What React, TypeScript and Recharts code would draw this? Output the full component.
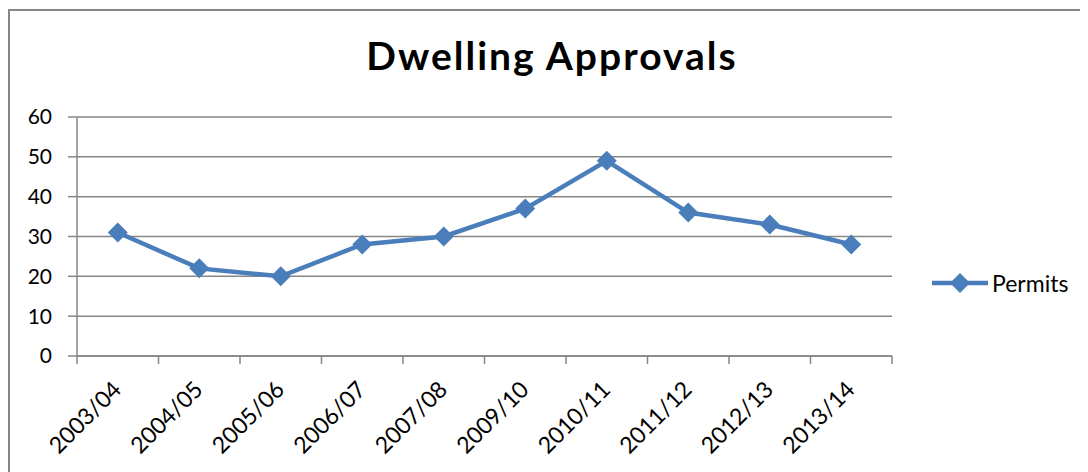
import { LineChart, Line, XAxis, YAxis, CartesianGrid } from 'recharts';

const years = ['2003/04', '2004/05', '2005/06', '2006/07', '2007/08', '2009/10', '2010/11', '2011/12', '2012/13', '2013/14'];
const permits = [31, 22, 20, 28, 30, 37, 49, 36, 33, 28];
const yTicks = [0, 10, 20, 30, 40, 50, 60];

const data = years.map((year, i) => ({ year, permits: permits[i] }));

const W = 1080;
const H = 463;
const M = { top: 108, right: 196, left: 0, bottom: 26 };
const Y_W = 69;
const X_H = H - M.bottom - 347;
const BAND = (W - Y_W - M.right) / years.length;
const BLUE = '#4A7EBB';
const GRID = '#868686';
const FONT = 'Lato, "Open Sans", sans-serif';

const Diamond = (props: any) => {
  const { cx, cy } = props;
  if (cx == null || cy == null) return null;
  const r = 10;
  return (
    <polygon
      key={`d-${cx}`}
      points={`${cx},${cy - r} ${cx + r},${cy} ${cx},${cy + r} ${cx - r},${cy}`}
      fill={BLUE}
    />
  );
};

const XTick = (props: any) => {
  const { x, y, payload, index } = props;
  const tx = x + 5;
  const ty = y + 35;
  return (
    <g>
      <line x1={x - BAND / 2} x2={x - BAND / 2} y1={y} y2={y + 8} stroke={GRID} strokeWidth={1.5} />
      {index === years.length - 1 && (
        <line x1={x + BAND / 2} x2={x + BAND / 2} y1={y} y2={y + 8} stroke={GRID} strokeWidth={1.5} />
      )}
      <text
        x={tx}
        y={ty}
        textAnchor="end"
        fontSize={23}
        fontFamily={FONT}
        fill="#000"
        transform={`rotate(-45, ${tx}, ${ty})`}
      >
        {payload.value}
      </text>
    </g>
  );
};

export default function App() {
  return (
    <div
      style={{
        position: 'relative',
        width: W,
        height: H,
        marginTop: 1,
        borderLeft: `2px solid ${GRID}`,
        borderTop: `2px solid ${GRID}`,
        boxSizing: 'border-box',
        background: '#fff',
      }}
    >
      <div
        style={{
          position: 'absolute',
          left: 0,
          width: 1084,
          top: 21,
          textAlign: 'center',
          fontFamily: FONT,
          fontWeight: 700,
          fontSize: 39,
          letterSpacing: 2,
          color: '#000',
        }}
      >
        Dwelling Approvals
      </div>
      <div style={{ position: 'absolute', left: -2, top: -2 }}>
        <LineChart width={W} height={H} data={data} margin={M}>
          <CartesianGrid vertical={false} stroke={GRID} strokeWidth={1.5} />
          <XAxis
            dataKey="year"
            height={X_H}
            interval={0}
            padding={{ left: BAND / 2, right: BAND / 2 }}
            tickLine={false}
            tickSize={0}
            tickMargin={0}
            axisLine={{ stroke: GRID, strokeWidth: 1.5 }}
            tick={<XTick />}
          />
          <YAxis
            width={Y_W}
            domain={[0, 60]}
            ticks={yTicks}
            interval={0}
            tickSize={9}
            tickMargin={16}
            tickLine={{ stroke: GRID, strokeWidth: 1.5 }}
            axisLine={{ stroke: GRID, strokeWidth: 1.5 }}
            tick={{ fontSize: 21, fontFamily: FONT, fill: '#000' }}
          />
          <Line
            type="linear"
            dataKey="permits"
            name="Permits"
            stroke={BLUE}
            strokeWidth={4.5}
            dot={<Diamond />}
            activeDot={false}
            isAnimationActive={false}
          />
        </LineChart>
      </div>
      <div
        style={{
          position: 'absolute',
          left: 922,
          top: 257,
          display: 'flex',
          alignItems: 'center',
          fontFamily: FONT,
          fontSize: 23,
          lineHeight: '30px',
          color: '#000',
        }}
      >
        <svg width={56} height={20}>
          <line x1={0} x2={56} y1={10} y2={10} stroke={BLUE} strokeWidth={4.5} />
          <polygon points="28,0 38,10 28,20 18,10" fill={BLUE} />
        </svg>
        <span style={{ marginLeft: 4 }}>Permits</span>
      </div>
    </div>
  );
}
